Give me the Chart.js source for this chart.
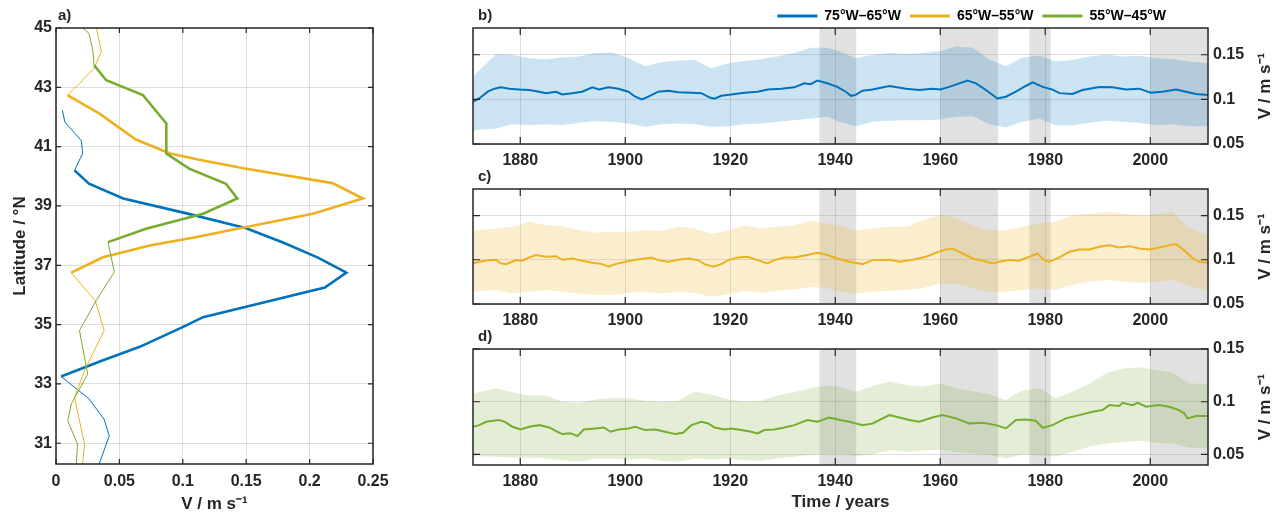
<!DOCTYPE html>
<html>
<head>
<meta charset="utf-8">
<script src="https://cdn.jsdelivr.net/npm/chart.js@4.4.1/dist/chart.umd.min.js"></script>
<style>
  html, body { margin: 0; padding: 0; background: #fff; }
  body { width: 1279px; height: 516px; position: relative; overflow: hidden; }
  canvas { position: absolute; }
</style>
</head>
<body>
<canvas id="profile" width="400" height="516" style="left:0;top:0"></canvas>
<canvas id="panelB" width="819" height="175" style="left:460px;top:0"></canvas>
<canvas id="panelC" width="819" height="175" style="left:460px;top:160px"></canvas>
<canvas id="panelD" width="819" height="196" style="left:460px;top:320px"></canvas>
<script>
// ---- data ----
const regionNames = ['75°W–65°W', '65°W–55°W', '55°W–45°W'];

// a) meridional profiles: latitude (°N) and speed (m/s); thick part = significant range
const blueLat = [42.23, 41.83, 41.2, 40.77, 40.2, 39.75, 39.25, 38.75, 38.25, 37.75, 37.25, 36.75, 36.25, 35.25, 34.9, 34.25, 33.75, 33.25, 32.5, 31.8, 31.25, 30.3];
const blueV   = [0.005, 0.007, 0.020, 0.021, 0.0146, 0.026, 0.053, 0.103, 0.15, 0.18, 0.207, 0.229, 0.212, 0.116, 0.099, 0.066, 0.034, 0.004, 0.026, 0.038, 0.042, 0.034];
const blueSig = [33.25, 40.2];

const yellowLat = [45, 44.2, 43.64, 43.13, 42.74, 42.12, 41.24, 40.77, 40.56, 40.26, 39.77, 39.25, 38.74, 38.29, 37.97, 37.67, 37.27, 36.75, 35.8, 34.8, 33.45, 32.54, 30.97, 30.3];
const yellowV   = [0.032, 0.0357, 0.030, 0.0185, 0.009, 0.034, 0.063, 0.09, 0.113, 0.149, 0.218, 0.242, 0.2025, 0.15, 0.113, 0.074, 0.037, 0.012, 0.031, 0.038, 0.0225, 0.0146, 0.0225, 0.021];
const yellowSig = [36.75, 42.74];

const greenLat = [45, 44.82, 44.26, 43.75, 43.24, 42.74, 41.78, 40.77, 40.26, 39.75, 39.25, 38.74, 38.23, 37.78, 36.77, 35.81, 34.8, 33.33, 32.32, 31.76, 30.97, 30.3];
const greenV   = [0.021, 0.026, 0.029, 0.030, 0.0396, 0.0685, 0.087, 0.087, 0.105, 0.134, 0.143, 0.116, 0.071, 0.041, 0.046, 0.0317, 0.0185, 0.025, 0.012, 0.0093, 0.017, 0.016];
const greenSig = [37.78, 43.75];

const latTicks = [31, 33, 35, 37, 39, 41, 43, 45];
const speedTicks = [0, 0.05, 0.1, 0.15, 0.2, 0.25];

// b-d) time series: [year, mean speed]
const blueMean = [[1871,0.0974],[1872.2,0.101],[1873.8,0.1086],[1875.1,0.112],[1876.3,0.1135],[1877.9,0.112],[1879.8,0.111],[1881.7,0.1105],[1883.6,0.1086],[1884.9,0.107],[1886.8,0.1086],[1888,0.1056],[1889.9,0.107],[1891.8,0.1086],[1893.7,0.1135],[1895,0.111],[1896.8,0.1135],[1898.7,0.112],[1900.6,0.1086],[1901.9,0.103],[1903.2,0.100],[1904.4,0.103],[1906.3,0.1086],[1908.2,0.1098],[1910.1,0.108],[1912.6,0.1075],[1914.5,0.107],[1916.1,0.102],[1917,0.1008],[1918.3,0.104],[1920.2,0.1056],[1922.7,0.1075],[1925.2,0.1086],[1927.1,0.111],[1929.7,0.112],[1932.2,0.1135],[1934.1,0.118],[1935.3,0.117],[1936.6,0.121],[1938.5,0.118],[1940.4,0.114],[1942,0.1086],[1943,0.104],[1943.9,0.105],[1945.2,0.1098],[1947.1,0.111],[1950.3,0.115],[1953.5,0.112],[1956,0.1105],[1958.5,0.112],[1960,0.111],[1961.7,0.114],[1963.6,0.118],[1965.2,0.121],[1966.8,0.118],[1968.7,0.1105],[1970.9,0.101],[1972.5,0.103],[1974.4,0.1086],[1976.3,0.115],[1977.6,0.119],[1979.5,0.114],[1981.4,0.111],[1982.7,0.107],[1985.2,0.106],[1987.1,0.1105],[1990.3,0.114],[1992.8,0.1135],[1995.4,0.111],[1997.9,0.112],[2000.1,0.1075],[2002.3,0.1086],[2004.9,0.111],[2006.8,0.1086],[2008.7,0.106],[2011,0.105]];
const yellowMean = [[1871,0.0959],[1872.2,0.0977],[1874.1,0.0996],[1875.4,0.1],[1876.3,0.0959],[1877.3,0.0951],[1879.2,0.0996],[1880.4,0.0989],[1881.7,0.1026],[1883,0.1053],[1884.9,0.1034],[1886.8,0.1041],[1888,0.1],[1889.9,0.1015],[1891.8,0.0989],[1893.7,0.0966],[1895.6,0.0951],[1896.8,0.0921],[1898.1,0.0951],[1900,0.0977],[1901.9,0.1],[1903.8,0.1015],[1905,0.1026],[1906.3,0.0996],[1908.2,0.0977],[1910.1,0.1],[1912,0.1015],[1913.9,0.0996],[1915.1,0.0951],[1916.7,0.0921],[1918.3,0.0951],[1919.6,0.0996],[1921.5,0.1026],[1923.3,0.1034],[1925.2,0.0996],[1927.1,0.0959],[1928.4,0.0996],[1930.3,0.1026],[1932.2,0.1026],[1934.7,0.1053],[1936.6,0.1079],[1938.5,0.1053],[1940.4,0.1015],[1942.7,0.0977],[1945.2,0.0951],[1947.1,0.0996],[1950.3,0.1],[1952.2,0.0977],[1954.7,0.1],[1957.3,0.1034],[1959.2,0.1079],[1961.1,0.1117],[1962.3,0.1128],[1964.3,0.1071],[1966.2,0.1015],[1968.1,0.0989],[1970,0.0959],[1971.2,0.0977],[1973.1,0.0996],[1975,0.0989],[1977,0.1034],[1978.5,0.1071],[1979.8,0.0996],[1980.8,0.0977],[1982.7,0.1026],[1984.6,0.109],[1986.5,0.1117],[1988.4,0.1117],[1990.3,0.1147],[1992.2,0.1165],[1994.1,0.1139],[1996,0.1154],[1997.9,0.1128],[1999.8,0.1117],[2001.7,0.1139],[2003.6,0.1165],[2004.9,0.1177],[2006.8,0.109],[2008.1,0.1015],[2009.3,0.0977],[2011,0.0966]];
const greenMean = [[1871,0.0763],[1872.2,0.0778],[1873.5,0.081],[1874.8,0.082],[1876,0.0826],[1877,0.081],[1878.5,0.0763],[1880.1,0.0737],[1881.7,0.0763],[1883.6,0.0778],[1885.5,0.0756],[1887.1,0.0715],[1888,0.0693],[1889.6,0.07],[1890.9,0.0674],[1892.1,0.0737],[1894.3,0.0747],[1895.9,0.0756],[1897.2,0.0715],[1898.7,0.0737],[1900.6,0.0747],[1901.9,0.0763],[1903.8,0.0731],[1905.7,0.0737],[1907.6,0.0715],[1909.5,0.0693],[1911,0.0706],[1912.6,0.0778],[1914.5,0.081],[1915.8,0.0794],[1917,0.0756],[1918.9,0.0737],[1920.2,0.0747],[1922.1,0.0731],[1924,0.0715],[1925.2,0.07],[1926.5,0.0731],[1928.4,0.0737],[1930.3,0.0756],[1932.2,0.0778],[1934.7,0.0826],[1936.6,0.081],[1938.8,0.0851],[1941,0.0826],[1942.7,0.081],[1945.2,0.0778],[1947.1,0.0794],[1950.3,0.0873],[1952.2,0.0851],[1954.1,0.0826],[1956,0.081],[1958.5,0.0851],[1960.4,0.0873],[1963,0.0842],[1965.5,0.0794],[1968.1,0.08],[1970.6,0.0778],[1972.5,0.0747],[1974.4,0.0826],[1976.3,0.0832],[1978.2,0.082],[1979.5,0.0753],[1981.4,0.0778],[1983.9,0.0842],[1986.5,0.0873],[1989,0.0905],[1990.9,0.0921],[1992.2,0.0968],[1994.1,0.0959],[1994.7,0.099],[1996.6,0.0968],[1997.6,0.099],[1999.2,0.0953],[2001.7,0.0968],[2003.6,0.0953],[2005.5,0.0921],[2006.5,0.0889],[2007.1,0.0842],[2008.7,0.0864],[2011,0.0864]];

// spread band (upper / lower) sampled at these years
const bandYears = [1871, 1875.4, 1878.5, 1881.7, 1884.9, 1888, 1891.2, 1894.3, 1897.5, 1900.6, 1903.8, 1906.9, 1910.1, 1913.2, 1916.4, 1919.6, 1922.7, 1925.9, 1929, 1932.2, 1935.3, 1938.5, 1940.8, 1943.9, 1947.1, 1950.3, 1953.5, 1956.6, 1960, 1963, 1966.2, 1969.3, 1972.5, 1975.7, 1978.9, 1982, 1985.2, 1988.4, 1991.6, 1994.7, 1997.9, 2001.1, 2004.3, 2007.4, 2011];
const blueHigh = [0.1256,0.151,0.15,0.146,0.145,0.147,0.148,0.152,0.1526,0.146,0.137,0.142,0.1435,0.144,0.135,0.1405,0.143,0.145,0.148,0.152,0.158,0.158,0.154,0.146,0.15,0.152,0.151,0.152,0.154,0.1594,0.158,0.145,0.137,0.147,0.149,0.1425,0.144,0.148,0.15,0.148,0.149,0.146,0.145,0.1425,0.1406];
const blueLow = [0.0654,0.0673,0.0722,0.071,0.0722,0.071,0.0737,0.0756,0.0748,0.073,0.0692,0.0722,0.073,0.0722,0.0692,0.07,0.0722,0.073,0.0748,0.0767,0.0786,0.0805,0.0748,0.07,0.0748,0.076,0.0767,0.0767,0.0775,0.0805,0.081,0.072,0.0684,0.0748,0.0786,0.071,0.071,0.0737,0.076,0.0748,0.0737,0.071,0.0722,0.07,0.07];
const yellowHigh = [0.1335,0.1353,0.1372,0.1429,0.1391,0.138,0.1335,0.1305,0.1316,0.1316,0.1335,0.1327,0.1372,0.1353,0.129,0.1327,0.1391,0.1353,0.1372,0.1391,0.144,0.141,0.1391,0.1335,0.1353,0.1372,0.1372,0.1447,0.1504,0.1477,0.1391,0.1335,0.1335,0.1372,0.141,0.1429,0.1504,0.1523,0.1541,0.1523,0.1504,0.1515,0.1541,0.136,0.1278];
const yellowLow = [0.0639,0.0658,0.062,0.0639,0.0658,0.0639,0.062,0.0602,0.0602,0.0628,0.0639,0.062,0.0639,0.0628,0.0583,0.0613,0.065,0.0628,0.065,0.0665,0.0695,0.0677,0.0639,0.062,0.0639,0.065,0.0658,0.0677,0.0733,0.0726,0.0677,0.0639,0.0639,0.0658,0.0677,0.0658,0.0714,0.0752,0.0771,0.0752,0.0741,0.0752,0.0771,0.07,0.065];
const greenHigh = [0.1079,0.1127,0.109,0.106,0.106,0.1,0.099,0.102,0.1032,0.1032,0.101,0.1,0.1009,0.1095,0.107,0.102,0.1,0.101,0.106,0.109,0.113,0.1155,0.1142,0.1095,0.1149,0.119,0.1158,0.1142,0.1174,0.1127,0.11,0.107,0.1016,0.111,0.1127,0.1032,0.1095,0.117,0.1269,0.1316,0.1326,0.1301,0.1275,0.1174,0.1168];
const greenLow = [0.0484,0.0478,0.0468,0.0472,0.0462,0.0446,0.043,0.0462,0.0462,0.0453,0.0462,0.044,0.043,0.0462,0.0453,0.0462,0.0446,0.044,0.0462,0.0478,0.0494,0.0503,0.051,0.0484,0.0503,0.0541,0.0525,0.0535,0.0547,0.0525,0.051,0.0498,0.0462,0.0503,0.049,0.048,0.0525,0.0573,0.0604,0.062,0.063,0.0611,0.0604,0.0566,0.0557];

// grey shaded periods (years)
const greyPeriods = [[1937, 1944], [1960, 1971], [1977, 1981], [2000, 2011]];
const yearTicks = [1880, 1900, 1920, 1940, 1960, 1980, 2000];
const speedTicksTS = [0.05, 0.1, 0.15];

// ---- styling ----
const regionColors = ['#0072BD', '#EDB120', '#77AC30'];
const regionBands = ['rgba(0,114,189,0.2)', 'rgba(237,177,32,0.22)', 'rgba(119,172,48,0.2)'];
const INK = '#262626';
const GRID = 'rgba(0,0,0,0.13)';
const FONT = "'Liberation Sans', Arial, Helvetica, sans-serif";
const TITLE_FONT = { size: 17, weight: 'bold' };

Chart.defaults.font.family = FONT;
Chart.defaults.font.size = 16;
Chart.defaults.font.weight = 'bold';
Chart.defaults.color = INK;
Chart.defaults.animation = false;

// box, inward ticks, panel letter, rotated right title, grey periods
const framePlugin = {
  id: 'frame',
  beforeDatasetsDraw(chart, args, opts) {
    if (!opts.periods) return;
    const { ctx, chartArea: a, scales: { x } } = chart;
    ctx.save();
    ctx.fillStyle = 'rgba(140,140,140,0.26)';
    opts.periods.forEach(([s, e]) => {
      const x0 = Math.max(x.getPixelForValue(s), a.left);
      const x1 = Math.min(x.getPixelForValue(e), a.right);
      ctx.fillRect(x0, a.top, x1 - x0, a.bottom - a.top);
    });
    ctx.restore();
  },
  afterLayout(chart, args, opts) {
    if (opts.legendInset != null && chart.legend) {
      chart.legend.right = chart.chartArea.right - opts.legendInset;
    }
  },
  afterDraw(chart, args, opts) {
    const { ctx, chartArea: a, scales: { x, y } } = chart;
    const t = opts.tick;
    ctx.save();
    ctx.strokeStyle = INK;
    ctx.lineWidth = 1.2;
    ctx.beginPath();
    x.ticks.forEach(tk => {
      const px = x.getPixelForValue(tk.value);
      ctx.moveTo(px, a.bottom); ctx.lineTo(px, a.bottom - t);
      ctx.moveTo(px, a.top); ctx.lineTo(px, a.top + t);
    });
    y.ticks.forEach(tk => {
      const py = y.getPixelForValue(tk.value);
      ctx.moveTo(a.left, py); ctx.lineTo(a.left + t, py);
      ctx.moveTo(a.right, py); ctx.lineTo(a.right - t, py);
    });
    ctx.stroke();
    ctx.lineWidth = 1.5;
    ctx.strokeRect(a.left, a.top, a.right - a.left, a.bottom - a.top);

    ctx.fillStyle = INK;
    ctx.font = 'bold 15px ' + FONT;
    ctx.textBaseline = 'middle';
    ctx.textAlign = 'left';
    ctx.fillText(opts.label, a.left + opts.labelDx, a.top - 12);

    if (opts.rightTitle) {
      ctx.font = 'bold 17px ' + FONT;
      ctx.translate(a.right + 57, (a.top + a.bottom) / 2);
      ctx.rotate(-Math.PI / 2);
      ctx.textAlign = 'center';
      ctx.fillText(opts.rightTitle, 0, 0);
    }
    ctx.restore();
  }
};

// ---- a) profiles ----
const inRange = (v, r) => v >= r[0] - 1e-9 && v <= r[1] + 1e-9;
const profiles = [
  { lat: greenLat, v: greenV, sig: greenSig, color: regionColors[2] },
  { lat: yellowLat, v: yellowV, sig: yellowSig, color: regionColors[1] },
  { lat: blueLat, v: blueV, sig: blueSig, color: regionColors[0] }
];

new Chart(document.getElementById('profile'), {
  type: 'scatter',
  data: {
    datasets: profiles.map(p => ({
      data: p.lat.map((la, i) => ({ x: p.v[i], y: la })),
      showLine: true,
      borderColor: p.color,
      borderWidth: 1,
      pointRadius: 0,
      tension: 0,
      segment: {
        borderWidth: c => (inRange(c.p0.parsed.y, p.sig) && inRange(c.p1.parsed.y, p.sig)) ? 2.6 : 1
      }
    }))
  },
  options: {
    responsive: false,
    layout: { padding: { top: 28, right: 27, left: 0, bottom: 0 } },
    plugins: {
      legend: { display: false },
      tooltip: { enabled: false },
      frame: { tick: 5, label: 'a)', labelDx: 2 }
    },
    scales: {
      x: {
        type: 'linear', min: 0, max: 0.25,
        afterBuildTicks: s => { s.ticks = speedTicks.map(v => ({ value: v })); },
        afterFit: s => { s.height = 52; },
        grid: { color: GRID, drawTicks: false },
        border: { display: false },
        ticks: { padding: 8, maxRotation: 0, callback: v => String(v) },
        title: { display: true, text: 'V / m s⁻¹', font: TITLE_FONT, padding: { top: 0, bottom: 1 } }
      },
      y: {
        type: 'linear', min: 30.3, max: 45,
        afterBuildTicks: s => { s.ticks = latTicks.map(v => ({ value: v })); },
        afterFit: s => { s.width = 56; },
        grid: { color: GRID, drawTicks: false },
        border: { display: false },
        ticks: { padding: 4, callback: v => String(v) },
        title: { display: true, text: 'Latitude / °N', font: TITLE_FONT, padding: { top: 10, bottom: 0 } }
      }
    }
  },
  plugins: [framePlugin]
});

// ---- b-d) time series ----
const seriesMean = [blueMean, yellowMean, greenMean];
const seriesHigh = [blueHigh, yellowHigh, greenHigh];
const seriesLow = [blueLow, yellowLow, greenLow];

function makePanel(id, k, yMin, yMax, label, opts) {
  new Chart(document.getElementById(id), {
    type: 'line',
    data: {
      datasets: [
        {
          data: seriesMean[k].map(([x, y]) => ({ x, y })),
          borderColor: regionColors[k], borderWidth: 2,
          pointRadius: 0, tension: 0, fill: false
        },
        {
          data: bandYears.map((x, i) => ({ x, y: seriesHigh[k][i] })),
          borderColor: 'rgba(0,0,0,0)', borderWidth: 1,
          backgroundColor: regionBands[k], pointRadius: 0, tension: 0, fill: '+1'
        },
        {
          data: bandYears.map((x, i) => ({ x, y: seriesLow[k][i] })),
          borderColor: 'rgba(0,0,0,0)', borderWidth: 1,
          pointRadius: 0, tension: 0, fill: false
        }
      ]
    },
    options: {
      responsive: false,
      layout: { padding: { top: opts.padTop, left: 13, right: 0, bottom: 0 } },
      plugins: {
        tooltip: { enabled: false },
        legend: opts.legend ? {
          display: true, position: 'top', align: 'end', maxHeight: 28,
          labels: {
            boxWidth: 40, boxHeight: 3, padding: 9, color: INK,
            font: { size: 14, weight: 'bold' },
            generateLabels: () => regionNames.map((t, i) => ({
              text: t, fillStyle: regionColors[i], strokeStyle: regionColors[i],
              lineWidth: 0, hidden: false, datasetIndex: i
            }))
          }
        } : { display: false },
        frame: {
          tick: 7, label, labelDx: 5, rightTitle: 'V / m s⁻¹', periods: greyPeriods,
          legendInset: opts.legend ? 33 : null
        }
      },
      scales: {
        x: {
          type: 'linear', min: 1871, max: 2011,
          afterBuildTicks: s => { s.ticks = yearTicks.map(v => ({ value: v })); },
          afterFit: s => { s.height = opts.xHeight; },
          grid: { color: GRID, drawTicks: false },
          border: { display: false },
          ticks: { padding: 7, maxRotation: 0, callback: v => String(v) },
          title: { display: !!opts.xTitle, text: opts.xTitle || '', font: TITLE_FONT, padding: { top: 0, bottom: 3 } }
        },
        y: {
          type: 'linear', position: 'right', min: yMin, max: yMax,
          afterBuildTicks: s => { s.ticks = speedTicksTS.map(v => ({ value: v })); },
          afterFit: s => { s.width = 71; },
          grid: { color: GRID, drawTicks: false },
          border: { display: false },
          ticks: { padding: 5, callback: v => String(v) }
        }
      }
    },
    plugins: [framePlugin]
  });
}

makePanel('panelB', 0, 0.05, 0.18, 'b)', { padTop: 0, legend: true, xHeight: 31 });
makePanel('panelC', 1, 0.05, 0.18, 'c)', { padTop: 29, legend: false, xHeight: 31 });
makePanel('panelD', 2, 0.04, 0.15, 'd)', { padTop: 29, legend: false, xHeight: 51, xTitle: 'Time / years' });
</script>
</body>
</html>
